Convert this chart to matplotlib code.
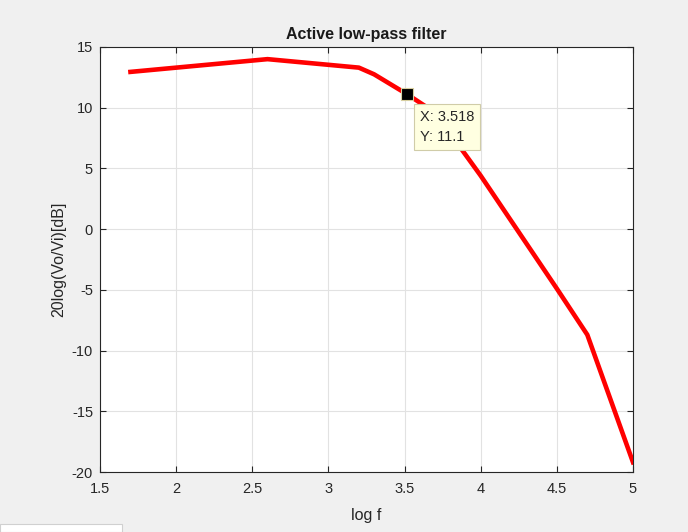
import matplotlib
matplotlib.use("Agg")
import matplotlib.pyplot as plt
from matplotlib.patches import Rectangle

# data
log_f = [1.7, 2.6, 3.2, 3.3, 3.518, 3.7, 4.0, 4.5, 4.7, 5.0]
gain_db = [12.95, 14.0, 13.3, 12.75, 11.1, 9.6, 4.4, -4.9, -8.7, -19.2]
x_ticks = [1.5, 2, 2.5, 3, 3.5, 4, 4.5, 5]
y_ticks = [-20, -15, -10, -5, 0, 5, 10, 15]
tip_x, tip_y = 3.518, 11.1

plt.rcParams['font.family'] = ['Liberation Sans', 'DejaVu Sans']

fig = plt.figure(figsize=(6.88, 5.32), dpi=100, facecolor='#f0f0f0')
ax = fig.add_axes([100/688, 60/532, 533/688, 425/532])
ax.set_facecolor('white')

ax.plot(log_f, gain_db, color='#ff0000', lw=3.3, solid_joinstyle='round', zorder=3)

ax.set_xlim(1.5, 5)
ax.set_ylim(-20, 15)
ax.set_xticks(x_ticks)
ax.set_xticklabels(['1.5', '2', '2.5', '3', '3.5', '4', '4.5', '5'])
ax.set_yticks(y_ticks)
ax.set_yticklabels([str(v) for v in y_ticks])
ax.grid(True, color='#e2e2e2', lw=0.8, zorder=0)
ax.set_axisbelow(True)
ax.tick_params(direction='in', length=4, width=0.8, colors='#262626',
               labelsize=10.5, top=True, right=True)
ax.tick_params(axis='x', pad=7)
ax.tick_params(axis='y', pad=5)
for s in ax.spines.values():
    s.set_color('#262626')
    s.set_linewidth(0.8)

ax.set_title('Active low-pass filter', fontsize=11.5, fontweight='bold',
             color='#1a1a1a', pad=6)
ax.set_xlabel('log f', fontsize=11.5, color='#262626', labelpad=9)
ax.set_ylabel('20log(Vo/Vi)[dB]', fontsize=11.5, color='#262626', labelpad=4)

# data tip
ax.plot([tip_x], [tip_y], marker='s', ms=8.5, color='black',
        markeredgecolor='#d8cfa0', markeredgewidth=0.8, zorder=5)
ax.annotate(f'X: {tip_x}\nY: {tip_y}', xy=(tip_x, tip_y),
            xytext=(9, -11), textcoords='offset points',
            ha='left', va='top', fontsize=10.5, color='#262626',
            linespacing=1.6,
            bbox=dict(boxstyle='square,pad=0.4', fc='#ffffe1', ec='#d0cca8', lw=0.8),
            zorder=6)

# small white artifact at bottom-left
fig.patches.append(Rectangle((0, 0), 122/688, 8/532, transform=fig.transFigure,
                             fc='white', ec='#d0d0d0', lw=0.8, zorder=10))

fig.savefig('out.png', dpi=100, facecolor=fig.get_facecolor())
